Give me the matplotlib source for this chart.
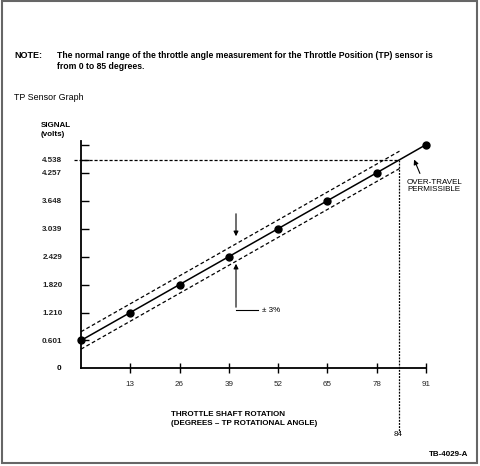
import matplotlib.pyplot as plt
import matplotlib.patches as patches
import numpy as np

plt.rcParams['font.family'] = ['Liberation Sans', 'DejaVu Sans']

# TP sensor readings (degrees, volts)
angle = [0, 13, 26, 39, 52, 65, 78, 91]
signal = [0.601, 1.210, 1.820, 2.429, 3.039, 3.648, 4.257, 4.87]

y_ticks = [0.601, 1.210, 1.820, 2.429, 3.039, 3.648, 4.257, 4.538]
y_labels = ['0.601', '1.210', '1.820', '2.429', '3.039', '3.648', '4.257', '4.538']
x_ticks = [13, 26, 39, 52, 65, 78, 91]

band_x = [0, 84]
band_center = [0.601, 4.538]
tol = 0.19
max_angle = 84
max_signal = 4.538

W, H = 480, 466
fig = plt.figure(figsize=(4.8, 4.66), dpi=100)


def px(x, y):
    return x / W, 1 - y / H


ax = fig.add_axes([81 / W, 1 - 368 / H, (426 - 81) / W, (368 - 141) / H])
ax.set_xlim(0, 91)
ax.set_ylim(0, 4.95)
for s in ['top', 'right']:
    ax.spines[s].set_visible(False)
ax.spines['left'].set_linewidth(1.3)
ax.spines['bottom'].set_linewidth(1.3)

ax.set_yticks(y_ticks + [signal[-1]])
ax.set_yticklabels(y_labels + [''])
ax.set_xticks(x_ticks)
ax.tick_params(axis='y', direction='in', length=6, width=1, labelsize=5.8, pad=13.5)
ax.tick_params(axis='x', direction='inout', length=7, width=1, labelsize=5.8, pad=6)
for lab in ax.get_yticklabels():
    lab.set_fontweight('bold')
    lab.set_color('#222222')
for lab in ax.get_xticklabels():
    lab.set_color('#222222')

# main line and points
ax.plot(angle, signal, color='black', lw=1.1, clip_on=False)
ax.plot(angle, signal, 'o', color='black', ms=5, clip_on=False)

# tolerance band
bc = np.array(band_center)
ax.plot(band_x, bc + tol, color='black', lw=0.9, ls=(0, (3, 2)), clip_on=False)
ax.plot(band_x, bc - tol, color='black', lw=0.9, ls=(0, (3, 2)), clip_on=False)

# limit lines
ax.plot([-1.8, max_angle], [max_signal, max_signal], color='black', lw=0.9,
        ls=(0, (2.5, 1.5)), clip_on=False)
ax.plot([max_angle, max_angle], [max_signal, -1.4], color='black', lw=0.9,
        ls=(0, (1.5, 1)), clip_on=False)

# annotations
ax.annotate('', xy=px(236, 239), xytext=px(236, 211), xycoords='figure fraction',
            textcoords='figure fraction',
            arrowprops=dict(arrowstyle='-|>', color='black', lw=0.8, mutation_scale=7))
ax.annotate('', xy=px(236, 261), xytext=px(236, 310), xycoords='figure fraction',
            textcoords='figure fraction',
            arrowprops=dict(arrowstyle='-|>', color='black', lw=0.8, mutation_scale=7))
fig.add_artist(plt.Line2D([236 / W, 258 / W], [1 - 310 / H, 1 - 310 / H], color='black', lw=0.8))
fig.text(*px(262, 310), '± 3%', fontsize=5.8, va='center', ha='left')

ax.annotate('', xy=px(413, 157), xytext=px(421, 176), xycoords='figure fraction',
            textcoords='figure fraction',
            arrowprops=dict(arrowstyle='-|>', color='black', lw=0.8, mutation_scale=7))
fig.text(*px(407, 186), 'OVER-TRAVEL\nPERMISSIBLE', fontsize=5.8, va='center',
         ha='left', linespacing=1.1)

fig.text(*px(57, 368), '0', fontsize=5.8, va='center', ha='left', fontweight='bold')
fig.text(*px(398, 434), '84', fontsize=5.8, va='center', ha='center')
fig.text(*px(41, 130), 'SIGNAL\n(volts)', fontsize=5.8, va='center', ha='left',
         fontweight='bold', linespacing=1.5)
fig.text(*px(171, 419), 'THROTTLE SHAFT ROTATION\n(DEGREES – TP ROTATIONAL ANGLE)',
         fontsize=5.8, va='center', ha='left', fontweight='bold', linespacing=1.3)

fig.text(*px(14, 56), 'NOTE:', fontsize=6.5, va='center', ha='left', fontweight='bold')
fig.text(*px(57, 61), 'The normal range of the throttle angle measurement for the Throttle Position (TP) sensor is\nfrom 0 to 85 degrees.',
         fontsize=6.2, va='center', ha='left', fontweight='bold', linespacing=1.25)
fig.text(*px(14, 97), 'TP Sensor Graph', fontsize=6.4, va='center', ha='left')
fig.text(*px(468, 455), 'TB-4029-A', fontsize=5.8, va='center', ha='right', fontweight='bold')

fig.add_artist(patches.Rectangle((2 / W, 3 / H), 475 / W, 462 / H, fill=False,
                                 edgecolor='#666666', lw=1.5, transform=fig.transFigure))

fig.savefig('out.png', dpi=100)
